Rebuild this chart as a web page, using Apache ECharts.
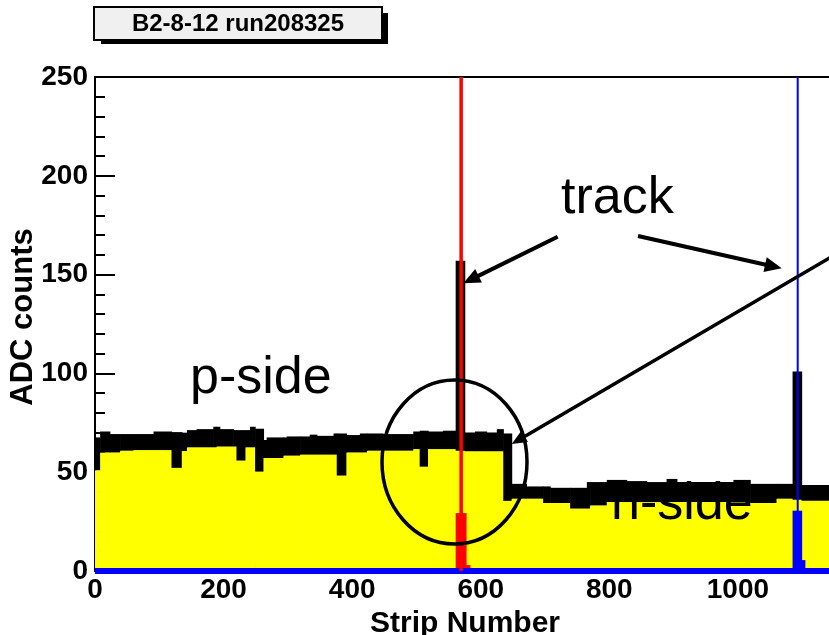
<!DOCTYPE html>
<html><head><meta charset="utf-8">
<script src="https://cdn.jsdelivr.net/npm/echarts@6/dist/echarts.min.js"></script>
<style>html,body{margin:0;padding:0;background:#fff}#c{width:829px;height:635px}</style>
</head><body><div id="c"></div>
<script>
// ---- Main ADC histogram (yellow fill, thick black outline band) ----
// bin edges in strip number; low = top of yellow fill, high = top of black band
const histEdges = [0,8,23,39,60,91,119,135,143,158,184,189,194,215,220,234,241,249,262,267,293,298,319,334,345,371,376,391,412,423,448,495,505,518,541,561,575,591,609,625,635,648,671,697,708,739,765,770,796,827,858,889,905,993,1019,1060,1085,1099,1151];
const histLow  = [51,60,60,60.9,61.2,61.2,52.2,60.7,62.6,62.6,62.6,63,63,63,55.9,62.6,62.6,50.3,57.2,57.2,58.4,58.4,58.9,58.9,58.9,58.9,48.3,60,60,60.9,60.9,61.7,52.8,61.7,61.7,60.9,60.6,60.6,60.6,60.6,35.5,36.6,36.6,34.4,34.4,31.6,31.6,33.2,34.9,34.9,34.9,34.9,34.9,34.9,34.4,36.6,36,35.5];
const histHigh = [67.6,70.6,69.3,69.3,69.3,70.6,70.3,70,71.3,71.8,73,73,71.8,71.3,71.3,71.3,73,72,66.3,67.6,67.6,68.1,68.1,69,68.4,69.6,69.6,68.8,69.6,69.6,69.3,70.6,71,70.6,71,157,70.1,70.6,70.1,71.8,69.6,44.1,42.8,42.8,42.1,42.1,45,45,46.1,45.5,45,46.6,45,46.1,44.1,44.1,101,43.5];

// ---- cluster histograms (red: p-side track, blue: n-side track) ----
const redEdges = [561,577,583];
const redVals  = [29.3,3];
const blueEdges = [0,1085,1099,1104,1151];
const blueVals  = [0,29,4,0];

// ---- track position markers ----
const trackPos    = [569.5, 1093];
const trackColors = ['#ff0000', '#0000ff'];
const trackWidths = [3.5, 2];

// ---- axes ----
const xMin = 0, xMax = 1151, xInterval = 200;
const yMin = 0, yMax = 250, yInterval = 50;

const histData = histLow.map((v,i)=>[histEdges[i], histEdges[i+1], v, histHigh[i]]);
const redData  = redVals.map((v,i)=>[redEdges[i], redEdges[i+1], v]);
const blueData = blueVals.map((v,i)=>[blueEdges[i], blueEdges[i+1], v]);
const trackData = trackPos.map((x,i)=>[x, i]);

const FONT = 'Liberation Sans';

function renderHist(params, api){
  const x0=api.value(0), x1=api.value(1), lo=api.value(2), hi=api.value(3);
  const p0=api.coord([x0,0]), pl=api.coord([x1,lo]), ph=api.coord([x1,hi]);
  const w = pl[0]-p0[0]+0.6;
  return {type:'group', children:[
    {type:'rect', shape:{x:p0[0], y:pl[1], width:w, height:p0[1]-pl[1]}, style:{fill:'#ffff00'}},
    {type:'rect', shape:{x:p0[0], y:ph[1], width:w, height:pl[1]-ph[1]}, style:{fill:'#000000'}}
  ]};
}
function makeBarRender(color, thick){
  return function(params, api){
    const x0=api.value(0), x1=api.value(1), v=api.value(2);
    const p0=api.coord([x0,0]), p1=api.coord([x1,v]);
    const w=p1[0]-p0[0]+0.6;
    return {type:'rect', shape:{x:p0[0], y:p1[1]-thick/2, width:w, height:p0[1]-p1[1]+thick}, style:{fill:color}};
  };
}
function renderTrack(params, api){
  const x=api.value(0), i=api.value(1);
  const cs=params.coordSys;
  const p=api.coord([x,0]);
  return {type:'line', shape:{x1:p[0], y1:cs.y, x2:p[0], y2:cs.y+cs.height},
    style:{stroke:trackColors[i], lineWidth:trackWidths[i]}};
}

function arrow(x1,y1,x2,y2,lw,hl,hw){
  const dx=x2-x1, dy=y2-y1, L=Math.hypot(dx,dy), ux=dx/L, uy=dy/L;
  const bx=x2-ux*hl, by=y2-uy*hl;
  return [
    {type:'line', shape:{x1:x1,y1:y1,x2:bx+ux*3,y2:by+uy*3}, style:{stroke:'#000',lineWidth:lw}, z:100},
    {type:'polygon', shape:{points:[[x2,y2],[bx-uy*hw,by+ux*hw],[bx+uy*hw,by-ux*hw]]}, style:{fill:'#000'}, z:100}
  ];
}

const annoText = (txt,x,y)=>({type:'text', x:x, y:y, z:100,
  style:{text:txt, font:'52px "Liberation Sans"', fill:'#000', verticalAlign:'middle', align:'left'}});

const graphics = [
  {type:'rect', shape:{x:101,y:13,width:287,height:31}, style:{fill:'#000'}, z:100},
  {type:'rect', shape:{x:94,y:7,width:288,height:33}, style:{fill:'#f0f0f0', stroke:'#000', lineWidth:2}, z:101},
  {type:'text', x:238, y:24, z:102, style:{text:'B2-8-12 run208325', font:'bold 24px "Liberation Sans"', fill:'#000', align:'center', verticalAlign:'middle'}},
  annoText('track', 561, 199),
  annoText('p-side', 190, 379),
  annoText('n-side', 611, 505),
  {type:'ellipse', shape:{cx:454.5, cy:462, rx:72.5, ry:82}, style:{fill:null, stroke:'#000', lineWidth:3.5}, z:100},
  ...arrow(557.7,236.7,463.3,283.3,4,17,7.5),
  ...arrow(638,236,781.7,268.3,4,17,7.5),
  ...arrow(860,240,511.7,444,3.5,15,6.5)
];

const chart = echarts.init(document.getElementById('c'), null, {renderer:'canvas'});
chart.setOption({
  animation:false,
  backgroundColor:'#ffffff',
  grid:{left:95, top:77, right:-6, bottom:64, show:true, borderColor:'#000', borderWidth:2, backgroundColor:'transparent', containLabel:false, outerBoundsMode:'none'},
  xAxis:{type:'value', min:xMin, max:xMax, interval:xInterval,
    axisLine:{show:true, onZero:false, lineStyle:{color:'#000', width:2}},
    axisTick:{show:true, inside:true, length:17, lineStyle:{color:'#000', width:2}},
    minorTick:{show:true, splitNumber:4, length:9, lineStyle:{color:'#000', width:2}},
    splitLine:{show:false}, minorSplitLine:{show:false},
    axisLabel:{color:'#000', fontFamily:FONT, fontWeight:'bold', fontSize:28, margin:5, showMaxLabel:false,
      formatter:(v)=>String(v)},
    name:'Strip Number', nameLocation:'middle', nameGap:38, nameMoveOverlap:false,
    nameTextStyle:{color:'#000', fontFamily:FONT, fontWeight:'bold', fontSize:30}},
  yAxis:{type:'value', min:yMin, max:yMax, interval:yInterval,
    axisLine:{show:true, lineStyle:{color:'#000', width:2}},
    axisTick:{show:true, inside:true, length:20, lineStyle:{color:'#000', width:2}},
    minorTick:{show:true, splitNumber:5, length:10, lineStyle:{color:'#000', width:2}},
    splitLine:{show:false}, minorSplitLine:{show:false},
    axisLabel:{color:'#000', fontFamily:FONT, fontWeight:'bold', fontSize:28, margin:7,
      formatter:(v)=>String(v)},
    name:'ADC counts', nameLocation:'middle', nameGap:56, nameMoveOverlap:false,
    nameTextStyle:{color:'#000', fontFamily:FONT, fontWeight:'bold', fontSize:31, padding:[0,0,0,14]}},
  series:[
    {type:'custom', name:'ADC', data:histData, renderItem:renderHist, clip:true, z:2,
      encode:{x:[0,1], y:[2,3]}, silent:true},
    {type:'custom', name:'p cluster', data:redData, renderItem:makeBarRender('#ff0000',0), clip:true, z:3,
      encode:{x:[0,1], y:2}, silent:true},
    {type:'custom', name:'n cluster', data:blueData, renderItem:makeBarRender('#0000ff',6), clip:false, z:4,
      encode:{x:[0,1], y:2}, silent:true},
    {type:'custom', name:'tracks', data:trackData, renderItem:renderTrack, clip:true, z:5,
      encode:{x:0, y:1}, silent:true}
  ],
  graphic:{elements:graphics}
});
</script></body></html>
